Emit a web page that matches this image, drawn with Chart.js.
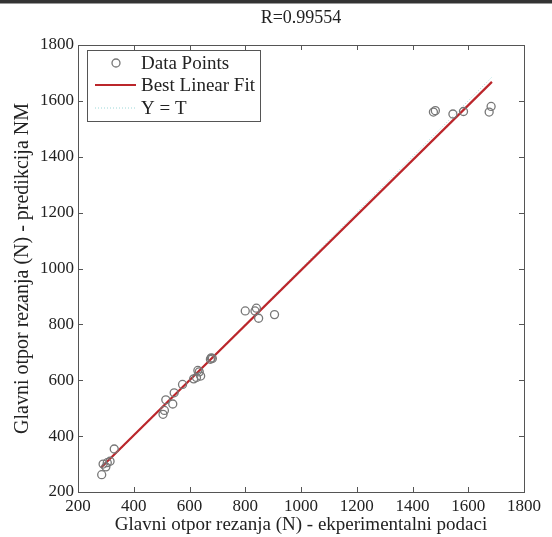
<!DOCTYPE html>
<html><head><meta charset="utf-8">
<script src="https://cdn.jsdelivr.net/npm/chart.js@4.4.1/dist/chart.umd.min.js"></script>
<style>
html,body{margin:0;padding:0;background:#fff;}
#wrap{position:relative;width:552px;height:537px;}
#bar{position:absolute;left:0;top:0;width:552px;height:3px;background:#333;border-bottom:1px solid #999;}
</style>
</head><body>
<div id="wrap"><canvas id="c" width="552" height="537"></canvas><div id="bar"></div></div>
<script>
const titleText = 'R=0.99554';
const xTitle = 'Glavni otpor rezanja (N) - ekperimentalni podaci';
const yTitle = 'Glavni otpor rezanja (N) - predikcija NM';
const tickValues = [200, 400, 600, 800, 1000, 1200, 1400, 1600, 1800];
const targetX = [285, 290, 300, 305, 315, 330, 505, 510, 515, 540, 545, 575, 615, 625, 630, 635, 640, 675, 678, 682, 800, 835, 840, 848, 905, 1475, 1482, 1545, 1583, 1675, 1682];
const outputY = [262, 300, 290, 305, 310, 354, 478, 492, 530, 515, 555, 585, 605, 610, 635, 630, 615, 675, 680, 678, 848, 848, 858, 822, 835, 1560, 1565, 1553, 1562, 1560, 1580];
const fitX = [282, 1685];
const fitY = [287, 1668];
const identX = [282, 1685];
const identY = [282, 1685];
const seriesLabels = ['Data Points', 'Best Linear Fit', 'Y = T'];

const FONT = 'Liberation Serif, Times New Roman, serif';
const pts = (xs, ys) => xs.map((x, i) => ({x: x, y: ys[i]}));

const frameTicks = {
  id: 'frameTicks',
  afterDatasetsDraw(chart) {
    const {ctx, chartArea: a, scales: {x, y}} = chart;
    ctx.save();
    ctx.strokeStyle = '#555';
    ctx.lineWidth = 1;
    ctx.beginPath();
    tickValues.forEach(v => {
      const px = Math.round(x.getPixelForValue(v)) + 0.5;
      ctx.moveTo(px, a.bottom); ctx.lineTo(px, a.bottom - 5);
      ctx.moveTo(px, a.top); ctx.lineTo(px, a.top + 5);
      const py = Math.round(y.getPixelForValue(v)) + 0.5;
      ctx.moveTo(a.left, py); ctx.lineTo(a.left + 5, py);
      ctx.moveTo(a.right, py); ctx.lineTo(a.right - 5, py);
    });
    ctx.stroke();
    ctx.strokeRect(Math.round(a.left) + 0.5, Math.round(a.top) + 0.5, Math.round(a.right - a.left), Math.round(a.bottom - a.top));
    ctx.restore();
  }
};

const boxLegend = {
  id: 'boxLegend',
  afterDraw(chart) {
    const ctx = chart.ctx;
    const ds = chart.data.datasets;
    const x0 = 87, y0 = 50, w = 173, h = 71;
    const rows = [63, 85, 108];
    ctx.save();
    ctx.fillStyle = '#fff';
    ctx.fillRect(x0, y0, w, h);
    ctx.strokeStyle = '#555';
    ctx.lineWidth = 1;
    ctx.strokeRect(x0 + 0.5, y0 + 0.5, w, h);
    ds.forEach((d, i) => {
      const yy = rows[i];
      ctx.save();
      if (i === 0) {
        ctx.strokeStyle = d.borderColor; ctx.lineWidth = d.borderWidth;
        ctx.beginPath(); ctx.arc(116, yy, d.pointRadius, 0, Math.PI * 2); ctx.stroke();
      } else {
        ctx.strokeStyle = d.borderColor; ctx.lineWidth = d.borderWidth;
        ctx.setLineDash(d.borderDash || []);
        ctx.beginPath(); ctx.moveTo(95, yy); ctx.lineTo(136, yy); ctx.stroke();
      }
      ctx.restore();
      ctx.fillStyle = '#222';
      ctx.font = '19px ' + FONT;
      ctx.textBaseline = 'middle';
      ctx.fillText(d.label, 141, yy + 1);
    });
    ctx.restore();
  }
};

new Chart(document.getElementById('c'), {
  type: 'scatter',
  data: {
    datasets: [
      {label: seriesLabels[0], data: pts(targetX, outputY), showLine: false, pointStyle: 'circle', pointRadius: 4, pointHoverRadius: 4, borderColor: '#777', backgroundColor: 'rgba(0,0,0,0)', borderWidth: 1.3},
      {label: seriesLabels[1], data: pts(fitX, fitY), showLine: true, pointRadius: 0, borderColor: '#bb262b', borderWidth: 2.2, fill: false},
      {label: seriesLabels[2], data: pts(identX, identY), showLine: true, pointRadius: 0, borderColor: '#9cd8d8', borderWidth: 1, borderDash: [1, 2], fill: false}
    ]
  },
  options: {
    responsive: false,
    animation: false,
    devicePixelRatio: 1,
    layout: {padding: {left: 0, right: 28, top: 0, bottom: 0}},
    plugins: {legend: {display: false}, tooltip: {enabled: false}, title: {display: false}},
    scales: {
      x: {
        type: 'linear', position: 'bottom', min: 200, max: 1800,
        afterBuildTicks: s => { s.ticks = tickValues.map(v => ({value: v})); },
        afterFit: s => { s.height = 45; },
        grid: {display: false, drawTicks: false}, border: {display: false},
        ticks: {font: {family: FONT, size: 17}, color: '#222', padding: 4, maxRotation: 0, autoSkip: false, callback: v => String(v)},
        title: {display: true, text: xTitle, font: {family: FONT, size: 19}, color: '#222', padding: {top: 0, bottom: 1}}
      },
      xTop: {
        type: 'linear', position: 'top', min: 200, max: 1800,
        afterFit: s => { s.height = 45; },
        grid: {display: false, drawTicks: false}, border: {display: false},
        ticks: {display: false},
        title: {display: true, text: titleText, font: {family: FONT, size: 18}, color: '#222', padding: {top: 7, bottom: 0}}
      },
      y: {
        type: 'linear', position: 'left', min: 200, max: 1800,
        afterBuildTicks: s => { s.ticks = tickValues.map(v => ({value: v})); },
        afterFit: s => { s.width = 78; },
        grid: {display: false, drawTicks: false}, border: {display: false},
        ticks: {font: {family: FONT, size: 17}, color: '#222', padding: 4, autoSkip: false, callback: v => String(v)},
        title: {display: true, text: yTitle, font: {family: FONT, size: 20}, color: '#222', padding: {top: 11, bottom: 0}}
      }
    }
  },
  plugins: [frameTicks, boxLegend]
});
</script>
</body></html>
